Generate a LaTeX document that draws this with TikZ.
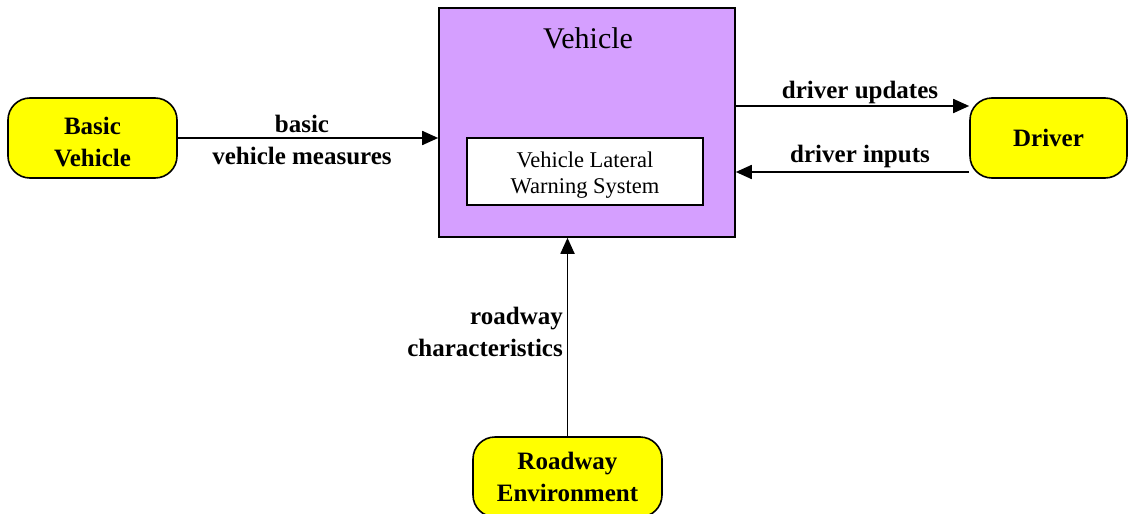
\documentclass[tikz,border=0pt]{standalone}
\usepackage{fontspec}
\setmainfont{Liberation Serif}
\usetikzlibrary{arrows.meta}
\definecolor{vpurple}{HTML}{D59FFF}
\definecolor{tyellow}{HTML}{FFFF00}
\tikzset{
  term/.style={draw=black, line width=1.6pt, fill=tyellow, rounded corners=22pt,
    align=center, inner sep=0pt, font=\bfseries\fontsize{25}{31.5}\selectfont},
  vehbox/.style={draw=black, line width=1.6pt, fill=vpurple, inner sep=0pt},
  subbox/.style={draw=black, line width=1.6pt, fill=white, inner sep=0pt},
  subtext/.style={align=center, inner sep=0pt, font=\fontsize{22.5}{26}\selectfont},
  termtext/.style={align=center, inner sep=0pt, font=\bfseries\fontsize{25}{31.5}\selectfont},
  flow/.style={line width=1.8pt, -{Triangle[length=16pt,width=14pt]}},
  lbl/.style={font=\bfseries\fontsize{25}{32}\selectfont, align=center, inner sep=0pt},
}
\begin{document}
\begin{tikzpicture}[x=1pt,y=-1pt]
\useasboundingbox (0,0) rectangle (1128,514);
\clip (0,0) rectangle (1128,514);
\node[vehbox, minimum width=296pt, minimum height=229pt] (veh) at (587,122.5) {};
\node[font=\fontsize{30}{34}\selectfont] (vtitle) at (588,38) {Vehicle};
\node[subbox, minimum width=236pt, minimum height=67pt] (vlws) at (585,171.5) {};
\node[subtext] (vlwstext) at (585,175) {Vehicle Lateral\\Warning System};
\node[term, minimum width=169pt, minimum height=80pt] (bv) at (92.5,138) {};
\node[termtext] (bvtext) at (92.5,142) {Basic\\Vehicle};
\node[term, minimum width=157pt, minimum height=80pt] (drv) at (1048.5,138) {Driver};
\node[term, minimum width=189pt, minimum height=80pt] (re) at (567.5,477) {Roadway\\Environment};
\draw[flow] (bv.east) -- (veh.west |- bv.east);
\draw[flow] (veh.east |- 0,106) -- (drv.west |- 0,106);
\draw[flow] (drv.west |- 0,172) -- (veh.east |- 0,172);
\draw[flow] (re.north) -- (re.north |- veh.south);
\node[lbl] (l1) at (302,140) {basic\\vehicle measures};
\node[lbl] (l2) at (860,92) {driver updates};
\node[lbl] (l3) at (860,156) {driver inputs};
\node[lbl, align=right, anchor=east] (l4) at (563,332) {roadway\\characteristics};
\end{tikzpicture}
\end{document}
